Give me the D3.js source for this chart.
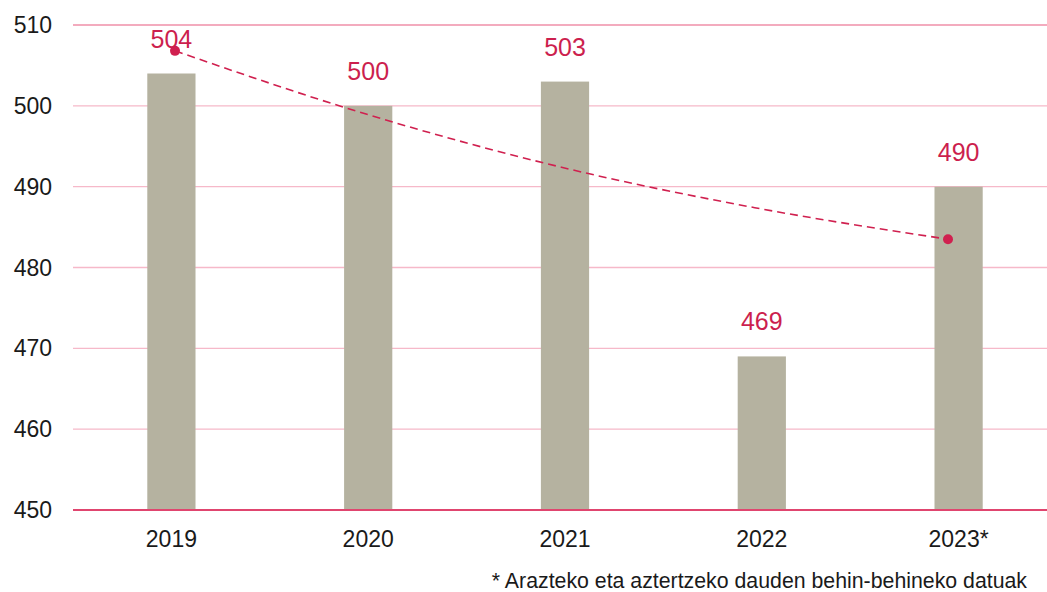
<!DOCTYPE html>
<html><head><meta charset="utf-8">
<script src="https://cdn.jsdelivr.net/npm/d3@7"></script>
<style>body{margin:0;background:#fff}svg{display:block;font-family:"Liberation Sans",Arial,sans-serif}</style>
</head><body><svg id="c" width="1047" height="592"></svg>
<script>
const categories = ["2019","2020","2021","2022","2023*"];
const values = [504, 500, 503, 469, 490];
const trendValues = [506.8, 498.9, 492.4, 487.4, 483.5];
const yTicks = [450, 460, 470, 480, 490, 500, 510];
const footnote = "* Arazteko eta aztertzeko dauden behin-behineko datuak";

const svg = d3.select("#c");
const x = d3.scaleBand().domain(categories).range([73, 1057]).paddingInner(0.755).paddingOuter(0.3775);
const xt = d3.scalePoint().domain(categories).range([175, 948]);
const y = d3.scaleLinear().domain([450, 510]).range([510, 25]);

// gridlines
svg.append("g").selectAll("line").data(yTicks).join("line")
  .attr("x1", 73).attr("x2", 1047)
  .attr("y1", d => y(d)).attr("y2", d => y(d))
  .attr("stroke", d => d === 450 ? "#e0456f" : (d === 510 ? "#ef8fa9" : "#f6b9c9"))
  .attr("stroke-width", d => d === 450 ? 2 : 1.3);

// y labels
svg.append("g").selectAll("text").data(yTicks).join("text")
  .attr("x", 52).attr("y", d => y(d)).attr("dy", "0.35em")
  .attr("text-anchor", "end").attr("font-size", 23).attr("fill", "#1a1a1a")
  .text(d => d);

// bars
svg.append("g").selectAll("rect").data(values).join("rect")
  .attr("x", (d, i) => x(categories[i])).attr("width", x.bandwidth())
  .attr("y", d => y(d)).attr("height", d => y(450) - y(d) - 1)
  .attr("fill", "#b5b2a0");

// x labels
svg.append("g").selectAll("text").data(categories).join("text")
  .attr("x", d => x(d) + x.bandwidth() / 2).attr("y", 547)
  .attr("text-anchor", "middle").attr("font-size", 23).attr("fill", "#1a1a1a")
  .text(d => d);

// trend line
const line = d3.line().x((d, i) => xt(categories[i])).y(d => y(d)).curve(d3.curveMonotoneX);
svg.append("path").datum(trendValues).attr("d", line)
  .attr("fill", "none").attr("stroke", "#d0204f").attr("stroke-width", 1.6)
  .attr("stroke-dasharray", "8,5");
svg.append("g").selectAll("circle").data([0, trendValues.length - 1]).join("circle")
  .attr("cx", i => xt(categories[i])).attr("cy", i => y(trendValues[i]))
  .attr("r", 5).attr("fill", "#d0204f");

// value labels
svg.append("g").selectAll("text").data(values).join("text")
  .attr("x", (d, i) => x(categories[i]) + x.bandwidth() / 2).attr("y", d => y(d) - 26)
  .attr("text-anchor", "middle").attr("font-size", 25).attr("fill", "#cc1f4e")
  .text(d => d);

// footnote
svg.append("text").attr("x", 1027).attr("y", 588).attr("text-anchor", "end")
  .attr("font-size", 21.3).attr("fill", "#1a1a1a").text(footnote);
</script></body></html>
